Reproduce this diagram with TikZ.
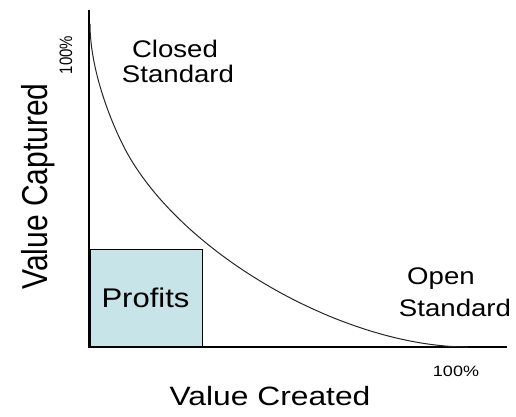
\documentclass[tikz,border=0pt]{standalone}
\usepackage{fontspec}
\setmainfont{Liberation Sans}
\definecolor{profitfill}{RGB}{199,228,232}
\begin{document}
\begin{tikzpicture}[x=1pt,y=-1pt,
  axis/.style={line width=2pt,black},
  curveline/.style={line width=1pt,black!85},
  label/.style={inner sep=0pt,anchor=base,font=\fontsize{24}{24}\selectfont},
  small/.style={inner sep=0pt,anchor=base,font=\fontsize{15}{15}\selectfont}]
\useasboundingbox (0,0) rectangle (516,417);
% profits area
\node[draw=black,line width=1.4pt,fill=profitfill,minimum width=112pt,minimum height=97pt,
      inner sep=0pt,anchor=south west] (box) at (90,347) {};
\node[label,font=\fontsize{27}{27}\selectfont] (profits) at (145.5,307) {\scalebox{1.15}[1]{Profits}};
% axes
\coordinate (origin) at (89,347);
\coordinate (ytop) at (89,10);
\coordinate (xend) at (507,347);
\draw[axis] (ytop) -- (origin) -- (xend);
% value capture curve, two smoothly joined pieces
\coordinate (cstart) at (90,24);
\coordinate (cmid) at (130,158);
\coordinate (cend) at (468,347);
\draw[curveline] (cstart) .. controls (90,74) and (115,132.6) .. (cmid)
                 .. controls (190,259.4) and (348,347) .. (cend);
% labels
\node[label] (closed) at (175,58) {\scalebox{1.15}[1]{Closed}};
\node[label] (closedstd) at (178,83) {\scalebox{1.15}[1]{Standard}};
\node[label] (open) at (441,284) {\scalebox{1.15}[1]{Open}};
\node[label] (openstd) at (455,316) {\scalebox{1.15}[1]{Standard}};
\node[small] (xmax) at (456,376) {\scalebox{1.2}[1]{100\%}};
\node[small,rotate=90] (ymax) at (72,55) {\scalebox{1}[1.2]{100\%}};
\node[label,font=\fontsize{26.5}{26.5}\selectfont] (xlabel) at (270,405) {\scalebox{1.2}[1]{Value Created}};
\node[label,font=\fontsize{30}{30}\selectfont,rotate=90] (ylabel) at (47,186.5) {\scalebox{1}[1.2]{Value Captured}};
\end{tikzpicture}
\end{document}
